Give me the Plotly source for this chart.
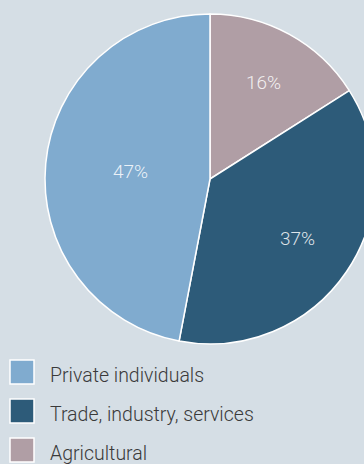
import math
import plotly.graph_objects as go

categories = ["Private individuals", "Trade, industry, services", "Agricultural"]
shares = [47, 37, 16]
colors = ["#80abcf", "#2d5b79", "#b09ea5"]
# radial position of each percentage label (fraction of radius)
label_r = [0.485, 0.64, 0.67]

W, H = 375, 464
BG = "#d5dee5"
FONT = "Roboto"
CX, CY, R = 210, 179, 165


def px(x):
    return x / W


def py(y):
    return 1 - y / H


fig = go.Figure()
fig.add_trace(go.Pie(
    labels=categories[::-1],
    values=shares[::-1],
    sort=False,
    direction="clockwise",
    rotation=0,
    marker=dict(colors=colors[::-1], line=dict(color="white", width=1.5)),
    textinfo="none",
    showlegend=False,
    domain=dict(x=[px(CX - R), px(CX + R)], y=[py(CY + R), py(CY - R)]),
))

# percentage labels placed at each slice's mid-angle (clockwise from 12 o'clock)
total = sum(shares)
start = 0.0
for name, v, rf in zip(categories[::-1], shares[::-1], label_r[::-1]):
    span = 360.0 * v / total
    mid = math.radians(start + span / 2)
    start += span
    fig.add_annotation(
        x=px(CX + rf * R * math.sin(mid)), y=py(CY - rf * R * math.cos(mid)),
        xref="paper", yref="paper", text=f"{round(100 * v / total)}%",
        showarrow=False, xanchor="center", yanchor="middle",
        font=dict(family=FONT, size=19, color="rgba(255,255,255,0.85)", weight=300))

# legend built from the category list
for i, (name, col) in enumerate(zip(categories, colors)):
    top = 360 + 39 * i
    fig.add_shape(type="rect", xref="paper", yref="paper",
                  x0=px(10), x1=px(34), y0=py(top + 24), y1=py(top),
                  fillcolor=col, line=dict(color="white", width=1.5))
    fig.add_annotation(x=px(48), y=py(top + 15), xref="paper", yref="paper",
                       text=name, showarrow=False, xanchor="left", yanchor="middle",
                       font=dict(family=FONT, size=19.5, color="#3a3a3a", weight=300))

fig.update_layout(
    width=W, height=H, autosize=False,
    margin=dict(l=0, r=0, t=0, b=0),
    paper_bgcolor=BG, plot_bgcolor=BG,
)

fig.write_html("out.html",
               post_script="document.documentElement.style.overflow='hidden';document.body.style.overflow='hidden';document.body.style.margin='0';")
